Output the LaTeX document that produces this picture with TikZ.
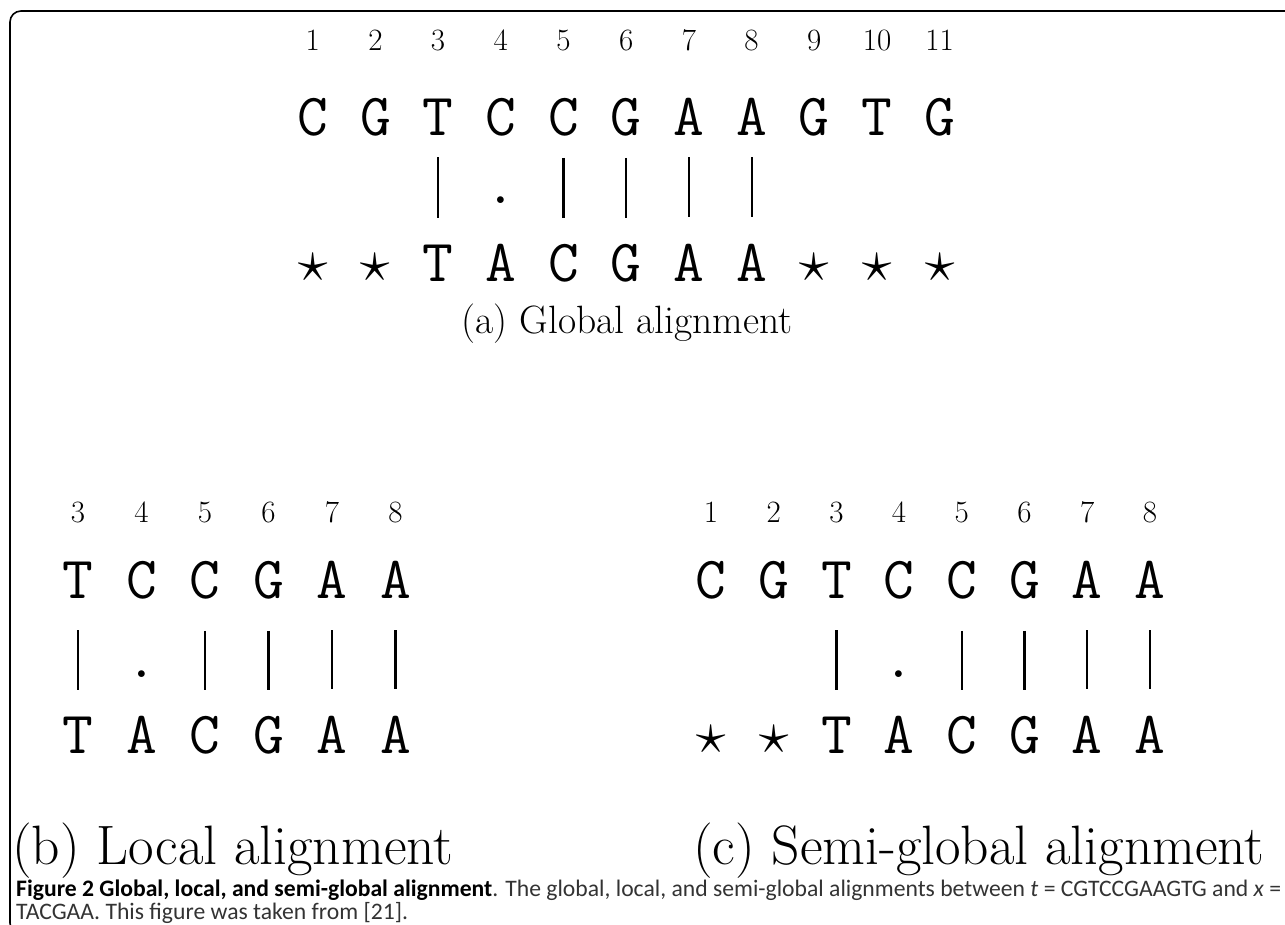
\RequirePackage{fix-cm}
\documentclass[tikz,border=0pt]{standalone}
\usepackage{fontspec}
\usepackage{graphicx}
\newfontfamily\capfont{Carlito}
\begin{document}
\begin{tikzpicture}[x=1pt,y=-1pt,
  num/.style={font=\fontsize{31}{31}\selectfont, anchor=base, inner sep=0pt},
  seq/.style={font=\fontsize{59.7}{60}\selectfont\ttfamily, anchor=base, inner sep=0pt},
  gapsym/.style={font=\fontsize{59.7}{60}\selectfont, anchor=base, inner sep=0pt},
  matchbar/.style={line width=2.2pt},
  subcap/.style={font=\fontsize{55.5}{56}\selectfont, anchor=base, inner sep=0pt}]
\useasboundingbox (0,0) rectangle (1285,924);
\clip (0,0) rectangle (1285,924);
\draw[line width=1.6pt, rounded corners=11pt] (1300,11) -- (10,11) -- (10,934) -- (1300,934);

% ---------- (a) global ----------
\foreach \t [count=\k] in {C,G,T,C,C,G,A,A,G,T,G}{
  \pgfmathsetmacro{\xx}{312.7+62.7*(\k-1)}
  \node[num] (a-n\k) at (\xx,50) {\k};
  \node[seq] (a-t\k) at (\xx,135) {\t};
}
\foreach \b [count=\k] in {S,S,T,A,C,G,A,A,S,S,S}{
  \pgfmathsetmacro{\xx}{312.7+62.7*(\k-1)}
  \if\b S
    \node[gapsym] (a-b\k) at (\xx,281) {$\star$};
  \else
    \node[seq] (a-b\k) at (\xx,281) {\b};
  \fi
}
\foreach \k in {3,5,6,7,8}{
  \draw[matchbar, shorten <=22pt, shorten >=26pt] (a-t\k.south) -- (a-b\k.north);
}
\node[seq] (a-d4) at (a-t4 |- 0,203) {.};
\node[subcap, font=\fontsize{39.5}{40}\selectfont] (a-cap) at (627,333) {(a) Global alignment};

% ---------- (b) local ----------
\foreach \t/\b [count=\j from 3] in {T/T,C/A,C/C,G/G,A/A,A/A}{
  \pgfmathsetmacro{\xx}{78+63.5*(\j-3)}
  \node[num] (b-n\j) at (\xx,522) {\j};
  \node[seq] (b-t\j) at (\xx,598) {\t};
  \node[seq] (b-b\j) at (\xx,753) {\b};
}
\foreach \k in {3,5,6,7,8}{
  \draw[matchbar, shorten <=32pt, shorten >=26pt] (b-t\k.south) -- (b-b\k.north);
}
\node[seq] (b-d4) at (b-t4 |- 0,677) {.};
\node[subcap, anchor=base west] (b-cap) at (12,864) {(b) Local alignment};

% ---------- (c) semi-global ----------
\foreach \t [count=\k] in {C,G,T,C,C,G,A,A}{
  \pgfmathsetmacro{\xx}{711+62.7*(\k-1)}
  \node[num] (c-n\k) at (\xx,522) {\k};
  \node[seq] (c-t\k) at (\xx,598) {\t};
}
\foreach \b [count=\k] in {S,S,T,A,C,G,A,A}{
  \pgfmathsetmacro{\xx}{711+62.7*(\k-1)}
  \if\b S
    \node[gapsym] (c-b\k) at (\xx,753) {$\star$};
  \else
    \node[seq] (c-b\k) at (\xx,753) {\b};
  \fi
}
\foreach \k in {3,5,6,7,8}{
  \draw[matchbar, shorten <=32pt, shorten >=26pt] (c-t\k.south) -- (c-b\k.north);
}
\node[seq] (c-d4) at (c-t4 |- 0,677) {.};
\node[subcap, anchor=base west] (c-cap) at (693,864) {(c) Semi-global alignment};

% ---------- figure caption ----------
\node[anchor=north west, inner sep=0pt, font=\capfont\fontsize{20}{17}\selectfont, text=black!80] (fig-cap) at (16,880)
  {\resizebox{1265pt}{!}{\begin{tabular}{@{}l@{}}\textcolor{black}{\textbf{Figure 2 Global, local, and semi-global alignment}}. The global, local, and semi-global alignments between \textit{t} = CGTCCGAAGTG and \textit{x} =\\ TACGAA. This figure was taken from [21].\end{tabular}}};
\end{tikzpicture}
\end{document}
